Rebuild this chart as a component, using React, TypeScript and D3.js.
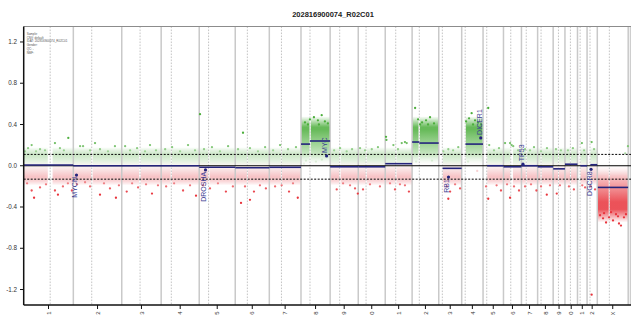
import React from "react";
import * as d3 from "d3";

// ---------- data ----------
const TITLE = "202816900074_R02C01";
const LEGEND_LINES = ["Sample:", "CNV: default", "IDAT: 202816900074_R02C01", "Gender:", "QC: -", "NMF:"];

const CHROMS = ["1","2","3","4","5","6","7","8","9","10","11","12","13","14","15","16","17","18","19","20","21","22","X"];
// chromosome lengths (Mb, hg19)
const CHROM_LEN = [249.25,243.2,198.02,191.15,180.92,171.12,159.14,146.36,141.21,135.53,135.01,133.85,115.17,107.35,102.53,90.35,81.2,78.08,59.13,63.03,48.13,51.3,155.27];
// centromere marker position (Mb)
const CENTROMERE = [133,92.4,92,51,47,60.8,61,45.2,48,39.2,52.7,36.2,18,17.6,18.5,36.6,24,17.2,26.5,27.5,13.2,14.7,60.6];
// probe-free gap around centromere (Mb)
const GAP_START = [121.5,90.5,87.9,48.2,46.4,58.8,58.1,43.8,47.3,38.2,51.6,33.3,0,0,0,35.3,22.2,15.4,24.6,25.6,0,0,58.1];
const GAP_END = [144,96,93.9,52.7,50.7,62.6,62,48.1,52,42.3,55.7,38.2,19.5,19.5,20.5,46.5,25.8,19,28.6,29.8,14.3,16.3,61];

const Y_TICKS = [1.2, 0.8, 0.4, 0.0, -0.4, -0.8, -1.2];
const THRESH_UP = 0.11;
const THRESH_DOWN = -0.13;

// segments
const SEG_CHR = ["1","2","3","4","5","6","7","8","8","9","10","11","12","12","13","14","15","16","17","18","19","20","21","22","X"];
const SEG_START = [0.8,0.1,0.2,0.1,0.1,0.2,0.1,0.2,45,0.2,0.2,0.2,0.2,36,19.5,19,20.5,0.1,0.1,0.1,0.3,0.1,14.3,16.3,2.7];
const SEG_END = [249,243,197.9,190.9,180.7,170.9,159,45,146.2,141,135.4,134.9,36,133.7,115,107.2,102.4,90.2,81,77.9,59,62.9,48,51.2,154.9];
const SEG_MEAN = [0.007,0,0,0,-0.015,-0.02,-0.015,0.21,0.24,-0.01,-0.01,0.02,0.23,0.22,-0.025,0.21,0,-0.01,0,-0.01,-0.03,0.015,0,0.01,-0.21];
// extent of the dense bin cloud of each segment (incl. its thinning fringe)
const SEG_LO = [-0.19,-0.19,-0.19,-0.19,-0.19,-0.19,-0.19,0.0,0.0,-0.19,-0.19,-0.19,0.0,0.0,-0.19,0.0,-0.19,-0.19,-0.19,-0.19,-0.19,-0.19,-0.19,-0.19,-0.55];
const SEG_HI = [0.18,0.18,0.18,0.18,0.18,0.18,0.18,0.48,0.48,0.18,0.18,0.18,0.48,0.48,0.18,0.48,0.18,0.18,0.18,0.18,0.18,0.18,0.18,0.18,0.03];

// scattered bins outside the dense cloud: [chrom, position Mb, value]
const OUTLIERS: [string, number, number][] = [
  ["1",6.5,0.14],["1",40,0.2],["1",82,0.16],["1",157,0.22],["1",182,0.17],["1",224,0.27],["1",107,0.15],["1",62,0.14],["1",202,0.15],["1",22,0.17],
  ["1",40,-0.24],["1",52,-0.31],["1",82,-0.21],["1",157,-0.24],["1",197,-0.2],["1",242,-0.24],["1",17,-0.17],["1",112,-0.18],["1",172,-0.28],["1",222,-0.17],
  ["2",34,0.19],["2",49,0.19],["2",84,0.15],["2",134,0.16],["2",174,0.14],["2",209,0.19],["2",109,0.22],
  ["2",19,-0.18],["2",84,-0.2],["2",134,-0.28],["2",184,-0.22],["2",214,-0.31],["2",59,-0.16],["2",154,-0.17],["2",229,-0.19],
  ["3",17,0.19],["3",42,0.15],["3",77,0.17],["3",117,0.14],["3",142,0.2],["3",172,0.15],
  ["3",25,-0.25],["3",52,-0.17],["3",82,-0.21],["3",122,-0.18],["3",152,-0.27],["3",182,-0.19],
  ["4",20,0.16],["4",55,0.18],["4",95,0.14],["4",135,0.2],["4",170,0.15],
  ["4",25,-0.2],["4",65,-0.17],["4",110,-0.24],["4",145,-0.19],["4",175,-0.29],
  ["5",4,0.5],["5",24,0.16],["5",64,0.18],["5",104,0.14],["5",145,0.19],
  ["5",19,-0.19],["5",54,-0.22],["5",94,-0.17],["5",134,-0.25],["5",169,-0.2],
  ["6",14,0.16],["6",39,0.32],["6",74,0.17],["6",114,0.14],["6",150,0.18],
  ["6",29,-0.36],["6",49,-0.2],["6",74,-0.33],["6",94,-0.25],["6",124,-0.19],["6",154,-0.22],
  ["7",19,0.15],["7",54,0.2],["7",94,0.16],["7",134,0.18],
  ["7",62,-0.19],["7",99,-0.25],["7",143,-0.31],["7",29,-0.2],["7",119,-0.17],
  ["8",20,0.42],["8",45,0.45],["8",65,0.47],["8",85,0.44],["8",104,0.49],["8",120,0.43],["8",135,0.41],["8",35,0.4],["8",90,0.4],
  ["8",25,0.05],["8",75,0.04],["8",105,0.06],["8",15,0.02],
  ["9",20,0.15],["9",50,0.17],["9",83,0.14],["9",110,0.16],
  ["9",33,-0.23],["9",65,-0.17],["9",100,-0.19],["9",125,-0.22],["9",139,-0.27],
  ["10",9,0.17],["10",34,0.15],["10",68,0.16],["10",99,0.18],
  ["10",24,-0.23],["10",59,-0.18],["10",109,-0.2],
  ["11",4,0.28],["11",6,0.25],["11",41,0.2],["11",83,0.22],["11",99,0.23],["11",108,0.22],["11",64,0.16],
  ["11",24,-0.17],["11",49,-0.23],["11",74,-0.18],["11",99,-0.19],["11",119,-0.25],
  ["12",15,0.56],["12",30,0.45],["12",50,0.42],["12",70,0.44],["12",90,0.47],["12",110,0.41],["12",40,0.4],["12",80,0.4],
  ["12",20,0.04],["12",100,0.05],
  ["13",23,0.14],["13",48,0.16],["13",72,0.15],["13",98,0.18],
  ["13",40,-0.2],["13",48,-0.32],["13",57,-0.25],["13",82,-0.18],["13",107,-0.22],
  ["14",22,0.43],["14",37,0.46],["14",50,0.51],["14",67,0.44],["14",82,0.42],["14",97,0.4],["14",57,0.4],
  ["14",32,0.04],["14",78,-0.05],
  ["15",26,0.56],["15",31,0.2],["15",55,0.15],["15",80,0.17],
  ["15",15,-0.2],["15",26,-0.32],["15",68,-0.19],["15",90,-0.24],
  ["16",8,0.22],["16",33,0.22],["16",41,0.2],["16",49,0.19],["16",73,0.15],
  ["16",18,-0.18],["16",33,-0.31],["16",53,-0.2],["16",78,-0.24],
  ["17",18,0.16],["17",43,0.15],["17",63,0.18],
  ["17",18,-0.2],["17",48,-0.18],["17",75,-0.24],
  ["18",17,0.14],["18",47,0.17],
  ["18",17,-0.2],["18",46,-0.28],["18",62,-0.19],
  ["19",14,0.16],["19",39,0.15],
  ["19",18,-0.27],["19",34,-0.19],
  ["20",15,0.15],["20",40,0.17],
  ["20",20,-0.2],["20",45,-0.23],
  ["21",22,0.22],["21",33,0.15],
  ["21",24,-0.19],["21",38,-0.21],
  ["22",23,0.23],["22",35,0.16],
  ["22",23,-1.25],["22",19,-0.2],["22",40,-0.23],
  ["X",14,-0.48],["X",29,-0.51],["X",44,-0.55],["X",59,-0.5],["X",79,-0.53],["X",94,-0.47],["X",109,-0.56],["X",119,-0.58],
  ["X",134,-0.5],["X",144,-0.47],["X",34,-0.46],["X",69,-0.45],["X",104,-0.49],["X",154,0.19],["X",140,0.12]
];

// detail genes
const GENE_NAME = ["MYCN","DROSHA","MYC","RB1","DICER1","TP53","DGCR8"];
const GENE_CHR = ["2","5","8","13","14","17","22"];
const GENE_POS = [15.9,31.4,128.7,48.9,95.6,7.6,20.1];
const GENE_VAL = [-0.09,-0.04,0.095,-0.11,0.27,0.015,-0.035];

// ---------- drawing ----------
const W = 631, H = 315;
const LEFT = 23.7, RIGHT = 628.2, TOP = 26.5, BOTTOM = 305;
const FONT = "'Liberation Sans', Arial, Helvetica, sans-serif";
const NAVY = "#24247c";

const green = d3.interpolateRgb("#f4faf2", "#4cae3c");
const red = d3.interpolateRgb("#fbf3f3", "#e8343c");
const colorOf = (v: number) => (v >= 0 ? green(Math.min(1, v / 0.35)) : red(Math.min(1, -v / 0.35)));

export default function App() {
  const starts = CHROM_LEN.map((_, i) => d3.sum(CHROM_LEN.slice(0, i)));
  const total = d3.sum(CHROM_LEN);
  const idx = (c: string) => CHROMS.indexOf(c);
  const x = d3.scaleLinear().domain([0, total]).range([LEFT, RIGHT]);
  const y = d3.scaleLinear().domain([-1.35, 1.35]).range([BOTTOM, TOP]);
  const gx = (c: string, pos: number) => x(starts[idx(c)] + pos);

  const gradVals = d3.range(0.6, -0.6001, -0.05);

  // band pieces (split at centromere gap)
  const bands: { x0: number; x1: number; lo: number; hi: number }[] = [];
  SEG_CHR.forEach((c, i) => {
    const ci = idx(c);
    const s = SEG_START[i], e = SEG_END[i];
    const gs = GAP_START[ci], ge = GAP_END[ci];
    const pieces: [number, number][] = [];
    if (ge <= s || gs >= e) pieces.push([s, e]);
    else {
      if (gs > s) pieces.push([s, gs]);
      if (ge < e) pieces.push([ge, e]);
    }
    pieces.forEach(([a, b]) => bands.push({ x0: gx(c, a), x1: gx(c, b), lo: SEG_LO[i], hi: SEG_HI[i] }));
  });

  return (
    <div style={{ position: "fixed", left: 0, top: 0, width: W, height: H, background: "#fff" }}>
      <svg width={W} height={H} style={{ display: "block" }} fontFamily={FONT}>
        <defs>
          <linearGradient id="valgrad" gradientUnits="userSpaceOnUse" x1={0} x2={0} y1={y(0.6)} y2={y(-0.6)}>
            {gradVals.map((v, i) => (
              <stop key={i} offset={(0.6 - v) / 1.2} stopColor={colorOf(v)} />
            ))}
          </linearGradient>
          <linearGradient id="fadegrad" x1={0} x2={0} y1={0} y2={1}>
            <stop offset={0} stopColor="#000" />
            <stop offset={0.22} stopColor="#fff" />
            <stop offset={0.78} stopColor="#fff" />
            <stop offset={1} stopColor="#000" />
          </linearGradient>
          <mask id="fade" maskContentUnits="objectBoundingBox">
            <rect x={0} y={0} width={1} height={1} fill="url(#fadegrad)" />
          </mask>
        </defs>

        {/* title */}
        <text x={333} y={16.5} textAnchor="middle" fontSize={7.5} fontWeight="bold" fill="#222">{TITLE}</text>

        {/* dense bin clouds */}
        {bands.map((b, i) => (
          <rect key={i} x={b.x0} width={Math.max(0, b.x1 - b.x0)} y={y(b.hi)} height={y(b.lo) - y(b.hi)}
            fill="url(#valgrad)" fillOpacity={0.85} mask="url(#fade)" />
        ))}

        {/* chromosome boundaries */}
        {starts.slice(1).concat([total]).map((s, i) => (
          <line key={"b" + i} x1={x(s)} x2={x(s)} y1={TOP} y2={BOTTOM} stroke="#c9c9c9" strokeWidth={1.5} />
        ))}
        <line x1={630.3} x2={630.3} y1={TOP} y2={BOTTOM} stroke="#c9c9c9" strokeWidth={1.2} />
        {/* centromeres */}
        {CENTROMERE.map((c, i) => (
          <line key={"c" + i} x1={x(starts[i] + c)} x2={x(starts[i] + c)} y1={TOP} y2={BOTTOM}
            stroke="#b5b5b5" strokeWidth={0.8} strokeDasharray="1.6,1.4" />
        ))}

        {/* scattered bins */}
        {OUTLIERS.map(([c, p, v], i) => (
          <circle key={"o" + i} cx={gx(c, p)} cy={y(v)} r={1.15} fill={colorOf(v * 1.25)} />
        ))}

        {/* zero & threshold lines */}
        <line x1={LEFT} x2={W} y1={y(0)} y2={y(0)} stroke="#000" strokeWidth={1} />
        <line x1={LEFT} x2={W} y1={y(THRESH_UP)} y2={y(THRESH_UP)} stroke="#000" strokeWidth={1} strokeDasharray="2,1.5" />
        <line x1={LEFT} x2={W} y1={y(THRESH_DOWN)} y2={y(THRESH_DOWN)} stroke="#000" strokeWidth={1} strokeDasharray="2,1.5" />

        {/* segments */}
        {SEG_CHR.map((c, i) => (
          <line key={"s" + i} x1={gx(c, SEG_START[i])} x2={gx(c, SEG_END[i])} y1={y(SEG_MEAN[i])} y2={y(SEG_MEAN[i])}
            stroke={NAVY} strokeWidth={1.6} />
        ))}

        {/* genes */}
        {GENE_NAME.map((g, i) => {
          const px = gx(GENE_CHR[i], GENE_POS[i]);
          const py = y(GENE_VAL[i]);
          const pos = GENE_VAL[i] >= 0;
          return (
            <g key={"g" + i}>
              <circle cx={px} cy={py} r={1.6} fill={NAVY} />
              <text transform={`translate(${px + 0.8},${pos ? py - 3 : py + 2}) rotate(-90)`}
                textAnchor={pos ? "start" : "end"} fontSize={7} fill="#3b3b92">{g}</text>
            </g>
          );
        })}

        {/* frame / axes */}
        <line x1={LEFT} x2={W} y1={TOP} y2={TOP} stroke="#8c8c8c" strokeWidth={1.2} />
        <line x1={LEFT} x2={LEFT} y1={TOP} y2={BOTTOM} stroke="#111" strokeWidth={1.5} />
        <line x1={LEFT} x2={W} y1={BOTTOM} y2={BOTTOM} stroke="#111" strokeWidth={1.5} />
        {Y_TICKS.map((t, i) => (
          <g key={"y" + i}>
            <line x1={20} x2={LEFT} y1={y(t)} y2={y(t)} stroke="#111" strokeWidth={1} />
            <text x={17} y={y(t)} dy="0.35em" textAnchor="end" fontSize={6.3} fill="#333">
              {d3.format(".1f")(t).replace("−", "-")}
            </text>
          </g>
        ))}
        {CHROMS.map((c, i) => {
          const m = x(starts[i] + CHROM_LEN[i] / 2);
          return (
            <g key={"x" + i}>
              <line x1={m} x2={m} y1={BOTTOM} y2={BOTTOM + 4} stroke="#111" strokeWidth={1} />
              <text transform={`translate(${m + 2.2},${BOTTOM + 6.5}) rotate(-90)`} textAnchor="end" fontSize={6} fill="#333">{c}</text>
            </g>
          );
        })}

        {/* legend */}
        {LEGEND_LINES.map((l, i) => (
          <text key={"l" + i} x={26.7} y={35 + i * 3.7} fontSize={3} fill="#555">{l}</text>
        ))}
      </svg>
    </div>
  );
}
